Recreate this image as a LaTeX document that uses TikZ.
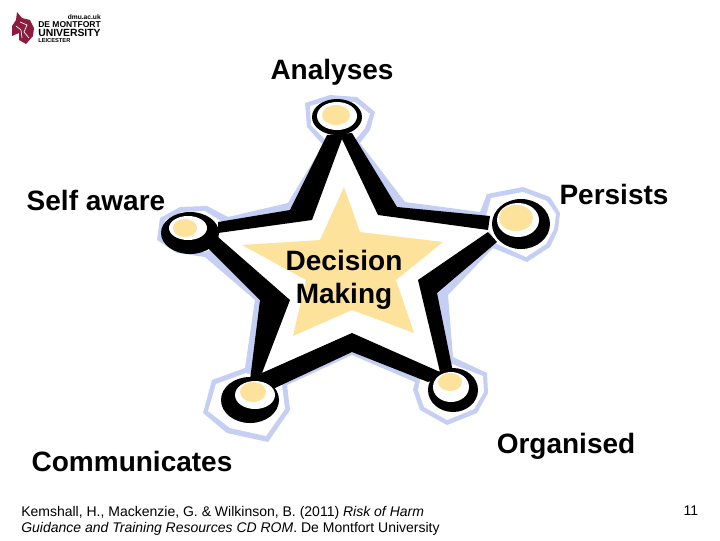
\documentclass[tikz,border=0pt]{standalone}
\usepackage{fontspec}
\setmainfont{Liberation Sans}
\usepackage{xcolor}
\usetikzlibrary{positioning}
\definecolor{halo}{RGB}{197,206,243}
\definecolor{starfill}{RGB}{253,226,155}
\definecolor{lion}{RGB}{140,28,62}

\begin{document}
\begin{tikzpicture}[
    x=0.75pt, y=-0.75pt,
    every node/.style={inner sep=0pt, align=center},
    label/.style={font=\fontsize{21}{25}\selectfont\bfseries},
    foot/.style={font=\fontsize{10.5}{12}\selectfont, align=left, anchor=north west},
    logotext/.style={font=\fontsize{#1}{#1}\selectfont\bfseries, anchor=west}
]
\useasboundingbox (0,0) rectangle (720,540);

% --- blue halo behind the star ---
\fill[halo] (305,103) -- (330,95) -- (357,97) -- (375,112) -- (370,130) -- (360,143)
  -- (405,202) -- (480,212) -- (487,194) -- (523,187) -- (550,197) -- (560,213)
  -- (558,230) -- (550,247) -- (527,262) -- (493,248) -- (448,295) -- (453,357)
  -- (487,373) -- (488,393) -- (477,413) -- (447,425) -- (420,410) -- (413,390)
  -- (415,382) -- (352,355) -- (287,385) -- (290,410) -- (268,442) -- (227,433)
  -- (203,413) -- (212,380) -- (245,368) -- (255,300) -- (205,257) -- (177,253)
  -- (157,240) -- (160,218) -- (180,207) -- (207,206) -- (228,217) -- (288,203)
  -- (323,145) -- (307,127) -- cycle;

% --- white gap round each hub, white inside the star ---
\fill[white] (310,106) -- (331,100) -- (355,102) -- (370,114) -- (365,128) -- (355,140)
  -- (326,140) -- (311,125) -- cycle;
\fill[white] (491,198) -- (523,192) -- (547,201) -- (556,214) -- (554,229) -- (546,244)
  -- (526,257) -- (495,243) -- (485,220) -- cycle;
\fill[white] (452,364) -- (483,376) -- (484,392) -- (474,409) -- (447,420) -- (424,407)
  -- (418,390) -- (420,380) -- cycle;
\fill[white] (246,373) -- (216,384) -- (208,411) -- (230,428) -- (266,436) -- (285,409)
  -- (282,385) -- cycle;
\fill[white] (205,252) -- (179,248) -- (162,238) -- (165,220) -- (182,212) -- (205,211)
  -- (222,222) -- (222,245) -- cycle;
\fill[white] (340,137) -- (301,215) -- (218,228) -- (213,243) -- (275,300) -- (256,378)
  -- (352,342) -- (440,375) -- (428,287) -- (490,236) -- (488,223) -- (388,211) -- cycle;

% --- black spokes ---
\fill[black] (327,135) -- (290,210) -- (218,222) -- (218,233) -- (312,220) -- (342,139)
  -- (378,215) -- (488,230) -- (490,216) -- (397,207) -- (352,133) -- cycle;
\fill[black] (488,232) -- (418,280) -- (440,372) -- (352,333) -- (262,373) -- (290,300)
  -- (218,237) -- (208,248) -- (260,300) -- (250,380) -- (275,388) -- (352,352)
  -- (428,382) -- (453,372) -- (437,293) -- (497,242) -- cycle;

% --- hubs ---
\foreach \hx/\hy/\rx/\ry/\wx/\wy/\wrx/\wry/\yx/\yy/\yrx/\yry in {
    337/117/25/18/337/116/20/14/336/115/14/10,
    521/224/29/25/518/220/21/17/516/218/17/13,
    453/390/25/22/451/387/18/15/450/382/12/9,
    250/400/29/23/255/395/20/14/253/392/13/10,
    190/233/29/21/188/228/19/12/185/228/12/9} {
    \fill[black] (\hx,\hy) ellipse [x radius=\rx, y radius=\ry];
    \fill[white] (\wx,\wy) ellipse [x radius=\wrx, y radius=\wry];
    \fill[starfill] (\yx,\yy) ellipse [x radius=\yrx, y radius=\yry];
}

% --- yellow star ---
\fill[starfill] (344,187) -- (360,232) -- (443,242) -- (396,280) -- (414,333)
  -- (352,310) -- (293,336) -- (306,280) -- (242,245) -- (320,240) -- cycle;

% --- labels ---
\node[label] (analyses) at (332,72) {Analyses};
\node[label] (selfaware) at (96,200) {Self aware};
\node[label] (persists) at (614,194) {Persists};
\node[label] (decision) at (344,280) {Decision\\[0pt]Making};
\node[label] (communicates) at (132,461) {Communicates};
\node[label] (organised) at (566,446) {Organised};

% --- reference and page number ---
\node[foot] (source) at (21,506) {Kemshall, H., Mackenzie, G. \& Wilkinson, B. (2011) \textit{Risk of Harm}\\
  \textit{Guidance and Training Resources CD ROM}. De Montfort University};
\node[font=\fontsize{10.5}{12}\selectfont] (pagenum) at (691,511) {11};

% --- logo ---
\fill[lion] (17,12) -- (22,18) -- (30,20) -- (34,28) -- (33,36) -- (26,44) -- (19,40)
  -- (19,33) -- (12,36) -- (12,26) -- (16,20) -- cycle;
\draw[white, line width=0.5pt] (20,22) -- (27,25) -- (24,32) -- (29,38);
\draw[white, line width=0.5pt] (16,26) -- (21,30) -- (22,38);
\node[logotext=5, anchor=east] (logoweb) at (101,17) {dmu.ac.uk};
\node[logotext=6.4] (logoname) at (38,25) {DE MONTFORT};
\node[logotext=7.8] (logouni) at (38,33) {UNIVERSITY};
\node[logotext=4.3] (logocity) at (38,41) {LEICESTER};

\end{tikzpicture}
\end{document}
